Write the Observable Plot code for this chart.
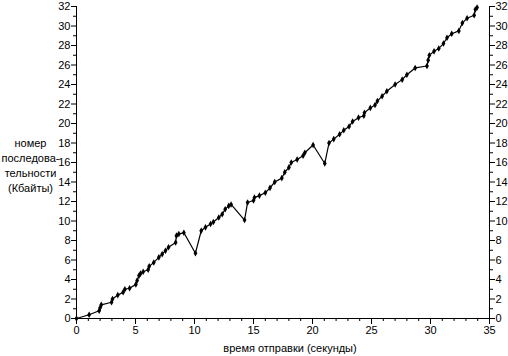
<!DOCTYPE html>
<html>
<head>
<meta charset="utf-8">
<script src="https://cdn.jsdelivr.net/npm/d3@7"></script>
<script src="https://cdn.jsdelivr.net/npm/@observablehq/plot@0.6"></script>
<style>
  html, body { margin: 0; padding: 0; background: #fff; }
</style>
</head>
<body>
<div id="chart"></div>
<script>
const sendTime = [0, 1.07, 1.92, 2.0, 2.1, 2.97, 3.05, 3.5, 3.95, 4.1, 4.5, 5.03, 5.14, 5.3, 5.42, 5.65, 6.07, 6.16, 6.55, 6.98, 7.26, 7.54, 7.8, 8.4, 8.47, 8.67, 9.1, 10.08, 10.57, 10.93, 11.36, 11.6, 12.06, 12.35, 12.6, 12.9, 13.1, 14.24, 14.5, 15.0, 15.08, 15.5, 16.0, 16.4, 16.8, 17.4, 17.65, 18.0, 18.2, 18.7, 19.2, 19.35, 20.05, 21.04, 21.4, 21.8, 22.3, 22.65, 23.1, 23.4, 23.9, 24.35, 24.4, 24.9, 25.3, 25.5, 25.9, 26.3, 27.0, 27.6, 28.0, 28.7, 29.7, 29.8, 29.9, 30.3, 30.7, 31.1, 31.4, 31.8, 32.4, 32.7, 33.1, 33.7, 33.8, 33.95];
const seqNumber = [0, 0.38, 0.8, 1.1, 1.4, 1.67, 2.0, 2.4, 2.7, 3.0, 3.1, 3.5, 3.9, 4.4, 4.6, 4.8, 5.0, 5.35, 5.75, 6.27, 6.6, 6.95, 7.3, 7.8, 8.5, 8.66, 8.8, 6.7, 9.0, 9.35, 9.7, 9.9, 10.36, 10.7, 11.2, 11.55, 11.7, 10.1, 11.9, 12.1, 12.4, 12.6, 12.9, 13.4, 14.0, 14.4, 15.0, 15.5, 16.0, 16.3, 16.7, 17.0, 17.8, 15.9, 18.0, 18.4, 18.9, 19.3, 19.7, 20.2, 20.6, 20.8, 21.1, 21.6, 21.9, 22.3, 22.8, 23.3, 24.0, 24.5, 25.0, 25.7, 25.9, 26.5, 27.0, 27.4, 27.7, 28.2, 28.8, 29.2, 29.5, 30.3, 30.8, 31.1, 31.7, 31.9];

const xMajorTicks = [0, 5, 10, 15, 20, 25, 30, 35];
const xMinorTicks = d3.range(0, 36, 1);
const yMajorTicks = d3.range(0, 33, 2);
const yMinorTicks = d3.range(1, 32, 2);

const xTitle = "время отправки (секунды)";
const yTitle = "номер\nпоследова-\nтельности\n(Кбайты)";

const data = sendTime.map((t, i) => ({t, v: seqNumber[i]}));

const chart = Plot.plot({
  width: 508,
  height: 356,
  marginLeft: 76,
  marginRight: 19,
  marginTop: 6,
  marginBottom: 38,
  style: {fontFamily: "'Liberation Sans', Arial, sans-serif", fontSize: "11px", color: "#000", background: "#fff"},
  x: {domain: [0, 35]},
  y: {domain: [0, 32]},
  marks: [
    Plot.ruleX([0, 35], {stroke: "#000", strokeWidth: 1}),
    Plot.ruleY([0], {stroke: "#000", strokeWidth: 1}),
    Plot.axisX({ticks: xMinorTicks, tickSize: 3, text: null, label: null, stroke: "#000"}),
    Plot.axisX({ticks: xMajorTicks, tickSize: 6, tickPadding: 2, tickFormat: d3.format("d"), label: null, stroke: "#000", fill: "#000"}),
    Plot.axisY({anchor: "left", ticks: yMinorTicks, tickSize: 3, text: null, label: null, stroke: "#000"}),
    Plot.axisY({anchor: "left", ticks: yMajorTicks, tickSize: 5, tickPadding: 1, tickFormat: d3.format("d"), label: null, stroke: "#000", fill: "#000"}),
    Plot.axisY({anchor: "right", ticks: yMinorTicks, tickSize: 3, text: null, label: null, stroke: "#000"}),
    Plot.axisY({anchor: "right", ticks: yMajorTicks, tickSize: 5, tickPadding: 1, tickFormat: d3.format("d"), label: null, stroke: "#000", fill: "#000"}),
    Plot.line(data, {x: "t", y: "v", stroke: "#000", strokeWidth: 1.2}),
    Plot.dot(data, {x: "t", y: "v", symbol: "diamond", r: 2, fill: "#000", stroke: "none"}),
    Plot.text([xTitle], {frameAnchor: "bottom", dx: 7, dy: 33, fill: "#000", fontSize: 11}),
    Plot.text([yTitle], {frameAnchor: "left", dx: -46, dy: 2, textAnchor: "middle", lineHeight: 1.36, fill: "#000", fontSize: 11})
  ]
});
document.getElementById("chart").appendChild(chart);
</script>
</body>
</html>
